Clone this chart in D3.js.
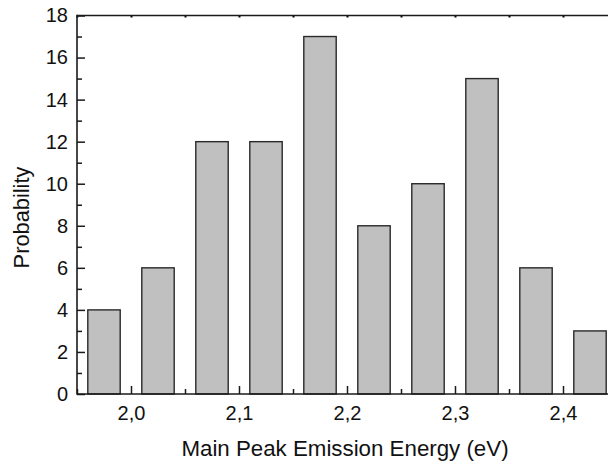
<!DOCTYPE html>
<html>
<head>
<meta charset="utf-8">
<script src="https://cdn.jsdelivr.net/npm/d3@7"></script>
<style>
  html, body { margin: 0; padding: 0; background: #fff; overflow: hidden; }
  svg { display: block; }
  text { font-family: Arial, "Liberation Sans", Helvetica, sans-serif; fill: #111; }
</style>
</head>
<body>
<svg id="chart" width="608" height="465"></svg>
<script>
// Histogram bins: centre of each bin (eV) and its probability count
const binCenters = [1.975, 2.025, 2.075, 2.125, 2.175, 2.225, 2.275, 2.325, 2.375, 2.425];
const probabilities = [4, 6, 12, 12, 17, 8, 10, 15, 6, 3];
const binWidth = 0.03;

const xMajorTicks = [2.0, 2.1, 2.2, 2.3, 2.4];
const xMinorTicks = [1.95, 2.05, 2.15, 2.25, 2.35, 2.45];
const yMajorTicks = [0, 2, 4, 6, 8, 10, 12, 14, 16, 18];
const yMinorTicks = [1, 3, 5, 7, 9, 11, 13, 15, 17];

const xTitle = "Main Peak Emission Energy (eV)";
const yTitle = "Probability";

const svg = d3.select("#chart");
const plotLeft = 77, plotRight = 617, plotTop = 15.5, plotBottom = 394;

const x = d3.scaleLinear().domain([1.95, 2.45]).range([plotLeft, plotRight]);
const y = d3.scaleLinear().domain([0, 18]).range([plotBottom, plotTop]);

// Decimal comma formatting for tick labels
const locale = d3.formatLocale({ decimal: ",", thousands: ".", grouping: [3], currency: ["", ""] });
const fmtX = locale.format(".1f");

const axisColor = "#1a1a1a";
const fontSize = 20;
const fontFamily = "Arial, 'Liberation Sans', sans-serif";

// Bars
svg.append("g")
  .selectAll("rect")
  .data(binCenters)
  .join("rect")
  .attr("x", (d) => x(d - binWidth / 2))
  .attr("width", (d) => x(d + binWidth / 2) - x(d - binWidth / 2))
  .attr("y", (d, i) => y(probabilities[i]))
  .attr("height", (d, i) => y(0) - y(probabilities[i]))
  .attr("fill", "#c0c0c0")
  .attr("stroke", "#2a2a2a")
  .attr("stroke-width", 1.4);

// Bottom axis: inward ticks
const xAxis = d3.axisBottom(x).tickValues(xMajorTicks).tickSize(-8).tickFormat(fmtX);
const gx = svg.append("g").attr("transform", `translate(0,${plotBottom})`).call(xAxis);
gx.select(".domain").remove();
gx.selectAll(".tick line").attr("stroke", axisColor).attr("stroke-width", 1.5);
gx.selectAll(".tick text").attr("font-size", fontSize).attr("dy", "0.71em")
  .attr("y", 12).style("font-family", fontFamily).attr("fill", "#111");

const gxm = svg.append("g").attr("transform", `translate(0,${plotBottom})`)
  .call(d3.axisBottom(x).tickValues(xMinorTicks).tickSize(-5).tickFormat(""));
gxm.select(".domain").remove();
gxm.selectAll(".tick line").attr("stroke", axisColor).attr("stroke-width", 1.5);

// Top axis: short ticks only
const gt = svg.append("g").attr("transform", `translate(0,${plotTop})`)
  .call(d3.axisTop(x).tickValues(xMajorTicks.concat(xMinorTicks)).tickSize(-2).tickFormat(""));
gt.select(".domain").remove();
gt.selectAll(".tick line").attr("stroke", "#000").attr("stroke-width", 2);

// Left axis: inward ticks
const yAxis = d3.axisLeft(y).tickValues(yMajorTicks).tickSize(-8).tickFormat(d3.format("d"));
const gy = svg.append("g").attr("transform", `translate(${plotLeft},0)`).call(yAxis);
gy.select(".domain").remove();
gy.selectAll(".tick line").attr("stroke", axisColor).attr("stroke-width", 1.5);
gy.selectAll(".tick text").attr("font-size", fontSize).attr("x", -9)
  .style("font-family", fontFamily).attr("fill", "#111");

const gym = svg.append("g").attr("transform", `translate(${plotLeft},0)`)
  .call(d3.axisLeft(y).tickValues(yMinorTicks).tickSize(-5).tickFormat(""));
gym.select(".domain").remove();
gym.selectAll(".tick line").attr("stroke", axisColor).attr("stroke-width", 1.5);

// Frame lines
svg.append("line").attr("x1", plotLeft).attr("x2", plotRight).attr("y1", plotBottom).attr("y2", plotBottom)
  .attr("stroke", axisColor).attr("stroke-width", 1.6);
svg.append("line").attr("x1", plotLeft).attr("x2", plotRight).attr("y1", plotTop).attr("y2", plotTop)
  .attr("stroke", axisColor).attr("stroke-width", 1.6);
svg.append("line").attr("x1", plotLeft).attr("x2", plotLeft).attr("y1", plotTop - 0.8).attr("y2", plotBottom + 0.8)
  .attr("stroke", axisColor).attr("stroke-width", 1.6);

// Axis titles
svg.append("text")
  .attr("x", 345).attr("y", 456)
  .attr("text-anchor", "middle").attr("font-size", 22.3)
  .text(xTitle);

svg.append("text")
  .attr("transform", `translate(28.5,217.5) rotate(-90)`)
  .attr("text-anchor", "middle").attr("font-size", 21.8)
  .text(yTitle);
</script>
</body>
</html>
